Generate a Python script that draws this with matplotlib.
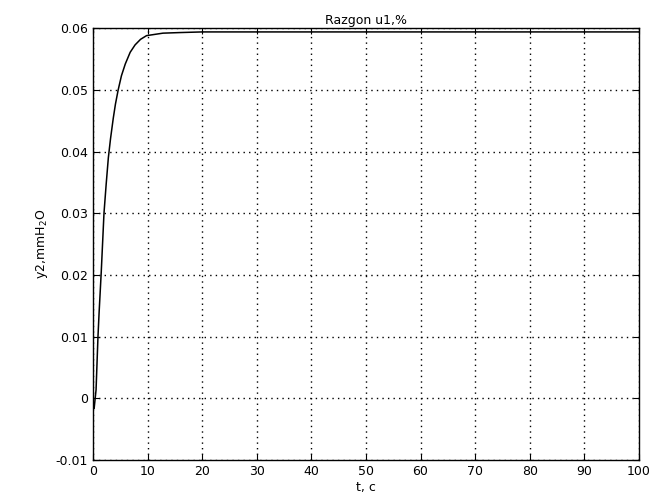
import matplotlib
matplotlib.use('Agg')
import matplotlib.pyplot as plt

# переходный процесс (разгон) по каналу u1 -> y2
t = [0, 0.2, 0.55, 0.9, 1.1, 1.5, 2.0, 2.4, 2.8, 3.2, 3.7, 4.1, 4.6, 5.2, 5.9, 6.8, 7.7, 8.7, 9.8,
     12.8, 16, 20, 30, 50, 100]
y2 = [-0.0010, -0.0016, 0.0014, 0.0100, 0.0138, 0.0205, 0.0300, 0.0347, 0.0390, 0.0421, 0.0454,
      0.0477, 0.0500, 0.0523, 0.0542, 0.0561, 0.0573, 0.0582, 0.0588,
      0.0592, 0.0593, 0.0594, 0.0594, 0.0594, 0.0594]

xticks = [0, 10, 20, 30, 40, 50, 60, 70, 80, 90, 100]
yticks = [-0.01, 0, 0.01, 0.02, 0.03, 0.04, 0.05, 0.06]
yticklabels = ['-0.01', '0', '0.01', '0.02', '0.03', '0.04', '0.05', '0.06']

plt.rcParams['font.family'] = ['DejaVu Sans']
plt.rcParams['font.size'] = 9

fig = plt.figure(figsize=(6.6, 5.04), dpi=100)
ax = fig.add_axes([0.141, 0.087, 0.827, 0.857])

ax.plot(t, y2, color='black', linewidth=1.1)

ax.set_xlim(0, 100)
ax.set_ylim(-0.01, 0.06)
ax.set_xticks(xticks)
ax.set_yticks(yticks)
ax.set_yticklabels(yticklabels)
ax.tick_params(direction='in', top=True, right=True, length=4, colors='black')
ax.grid(True, linestyle=(0, (1, 3)), color='black', linewidth=1.0)
for s in ax.spines.values():
    s.set_linewidth(1.0)

ax.set_title('Razgon u1,%', fontsize=9, pad=3)
ax.set_xlabel('t, c', labelpad=2)
ax.set_ylabel('y2,mmH$_2$O', labelpad=4)

fig.savefig('out.png', dpi=100)
